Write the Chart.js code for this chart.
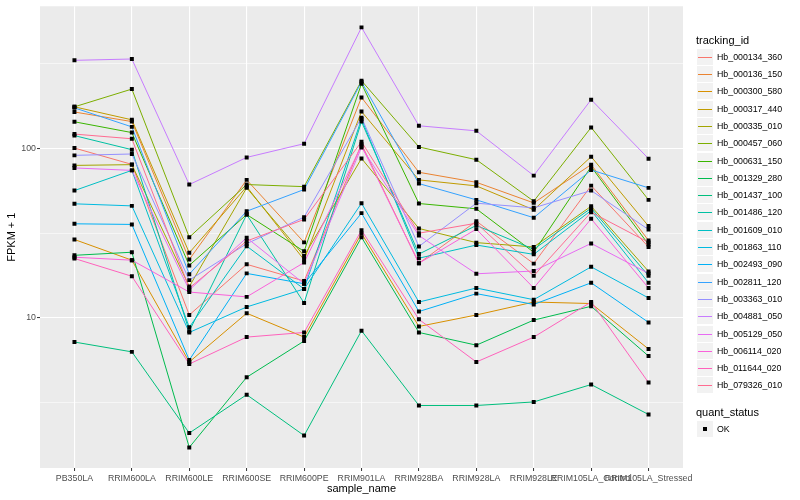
<!DOCTYPE html>
<html>
<head>
<meta charset="utf-8">
<script src="https://cdn.jsdelivr.net/npm/chart.js@4.4.1/dist/chart.umd.min.js"></script>
<style>
  html, body { margin: 0; padding: 0; background: #ffffff; }
  #wrap { position: relative; width: 800px; height: 500px; font-family: "Liberation Sans", Arial, sans-serif; }
  #chart { position: absolute; left: 0; top: 0; }
  .lg-title { position: absolute; left: 696px; font-size: 11px; color: #000; line-height: 13px; }
  .lg-key { position: absolute; left: 697px; width: 16px; height: 16px; background: #f2f2f2; }
  .lg-line { position: absolute; left: 1px; right: 1px; top: 7.5px; height: 1.3px; }
  .lg-dot { position: absolute; left: 6px; top: 6px; width: 4px; height: 4px; background: #000; }
  .lg-text { position: absolute; left: 717px; font-size: 8.8px; color: #000; line-height: 10px; white-space: nowrap; }
</style>
</head>
<body>
<div id="wrap">
  <canvas id="chart" width="800" height="500"></canvas>
</div>
<script>
// ---- data ----
const categories = ['PB350LA', 'RRIM600LA', 'RRIM600LE', 'RRIM600SE', 'RRIM600PE', 'RRIM901LA',
                    'RRIM928BA', 'RRIM928LA', 'RRIM928LE', 'RRIM105LA_Control', 'RRIM105LA_Stressed'];

const trackingIds = ['Hb_000134_360', 'Hb_000136_150', 'Hb_000300_580', 'Hb_000317_440', 'Hb_000335_010',
                     'Hb_000457_060', 'Hb_000631_150', 'Hb_001329_280', 'Hb_001437_100', 'Hb_001486_120',
                     'Hb_001609_010', 'Hb_001863_110', 'Hb_002493_090', 'Hb_002811_120', 'Hb_003363_010',
                     'Hb_004881_050', 'Hb_005129_050', 'Hb_006114_020', 'Hb_011644_020', 'Hb_079326_010'];

// FPKM + 1, one value per sample
const hb_000134_360 = [100.5, 80.5, 10.4, 20.7, 16.5, 106, 21.0, 37.2, 20.9, 60.3, 26.2];
const hb_000136_150 = [164, 144, 22.1, 65.2, 27.9, 200, 72.3, 63.1, 47.7, 80.2, 28.6];
const hb_000300_580 = [29.0, 21.9, 5.49, 10.65, 7.7, 31.5, 8.9, 10.4, 12.4, 12.15, 6.55];
const hb_000317_440 = [176, 147.5, 24.2, 59.5, 22.0, 165, 65.2, 60.1, 43.4, 89.4, 34.8];
const hb_000335_010 = [79.4, 80.2, 15.3, 58.5, 23.2, 87.3, 33.7, 27.8, 26.2, 45.6, 18.8];
const hb_000457_060 = [176, 224, 29.9, 61.2, 59.5, 251, 102, 85.8, 48.8, 133, 49.7];
const hb_000631_150 = [143.6, 124, 20.4, 40.7, 24.7, 241, 47.3, 44.0, 24.4, 78, 27.1];
const hb_001329_280 = [23.4, 24.4, 1.72, 4.46, 7.3, 29.9, 8.2, 6.9, 9.7, 11.7, 5.95];
const hb_001437_100 = [7.2, 6.3, 2.09, 3.52, 2.02, 8.4, 3.04, 3.04, 3.19, 4.04, 2.69];
const hb_001486_120 = [119, 98.3, 8.35, 40.7, 12.25, 144, 23.8, 35.1, 25.4, 44.4, 17.7];
const hb_001609_010 = [56.4, 74.2, 8.8, 26.5, 14.8, 149, 22.5, 26.9, 23.7, 43.0, 16.1];
const hb_001863_110 = [47.1, 45.8, 8.2, 11.6, 14.8, 47.5, 12.4, 15.0, 12.8, 20.0, 13.1];
const hb_002493_090 = [35.9, 35.6, 5.64, 18.3, 15.9, 41.5, 10.9, 13.9, 12.0, 16.1, 9.4];
const hb_002811_120 = [173.5, 134, 18.1, 42.6, 57.2, 247, 62.0, 49.7, 39.0, 74.6, 58.5];
const hb_003363_010 = [91, 92.7, 16.7, 27.4, 39.3, 152, 26.4, 47.5, 44.6, 56.4, 33.2];
const hb_004881_050 = [331, 337, 61.2, 88.5, 106.6, 518, 136, 127, 69.1, 194, 87];
const hb_005129_050 = [76.7, 74.2, 14.6, 29.7, 15.9, 101.4, 30.6, 18.2, 18.9, 27.5, 18.3];
const hb_006114_020 = [22.8, 21.9, 14.2, 13.3, 21.2, 103.7, 21.0, 33.4, 15.0, 38.4, 15.0];
const hb_011644_020 = [22.4, 17.6, 5.34, 7.7, 8.2, 32.9, 9.8, 5.49, 7.7, 12.4, 4.15];
const hb_079326_010 = [121.5, 114, 15.0, 28.4, 38.1, 109.5, 31.6, 36.2, 17.7, 42.0, 27.9];

const seriesValues = [hb_000134_360, hb_000136_150, hb_000300_580, hb_000317_440, hb_000335_010,
                      hb_000457_060, hb_000631_150, hb_001329_280, hb_001437_100, hb_001486_120,
                      hb_001609_010, hb_001863_110, hb_002493_090, hb_002811_120, hb_003363_010,
                      hb_004881_050, hb_005129_050, hb_006114_020, hb_011644_020, hb_079326_010];

const yTickValues = [10, 100];
const yMinorValues = [Math.sqrt(10), Math.sqrt(1000), Math.sqrt(100000)];
const yRange = [1.3, 690];

// ggplot default hue palette for 20 groups
const seriesColors = ['#F8766D', '#EA8331', '#D89000', '#C09B00', '#A3A500', '#7CAE00', '#39B600',
                      '#00BB4E', '#00BF7D', '#00C1A3', '#00BFC4', '#00BAE0', '#00B0F6', '#35A2FF',
                      '#9590FF', '#C77CFF', '#E76BF3', '#FA62DB', '#FF62BC', '#FF6C91'];

const FONT = '"Liberation Sans", Arial, sans-serif';

// ---- datasets ----
const lineSets = seriesValues.map((vals, s) => ({
    label: trackingIds[s],
    data: vals.map((v, i) => ({ x: i, y: v })),
    borderColor: seriesColors[s],
    borderWidth: 1,
    pointRadius: 0,
    tension: 0,
    fill: false,
    order: 100 - s
}));

const pointSet = {
    label: 'OK',
    data: seriesValues.flatMap(vals => vals.map((v, i) => ({ x: i, y: v }))),
    showLine: false,
    pointStyle: 'rect',
    pointRadius: 2.8,
    pointBackgroundColor: '#000',
    pointBorderWidth: 0,
    order: 0
};

// grey panel behind everything
const panelBg = {
    id: 'panelBg',
    beforeDraw(chart) {
        const a = chart.chartArea, ctx = chart.ctx;
        ctx.save();
        ctx.fillStyle = '#ebebeb';
        ctx.fillRect(a.left, a.top, a.right - a.left, a.bottom - a.top);
        ctx.restore();
    }
};

new Chart(document.getElementById('chart'), {
    type: 'line',
    data: { datasets: [pointSet].concat(lineSets) },
    plugins: [panelBg],
    options: {
        responsive: false,
        animation: false,
        layout: { padding: { top: 5, right: 117, bottom: 0, left: 0 } },
        plugins: { legend: { display: false }, tooltip: { enabled: false } },
        scales: {
            x: {
                type: 'linear',
                min: -0.6, max: 10.6,
                afterBuildTicks: (scale) => { scale.ticks = categories.map((c, i) => ({ value: i })); },
                afterFit: (scale) => { scale.height = 32; },
                border: { display: false },
                grid: { color: '#ffffff', lineWidth: 1.1, tickLength: 3, tickColor: '#333333', tickWidth: 1 },
                ticks: {
                    autoSkip: false, maxRotation: 0, padding: 2.5,
                    color: '#4d4d4d', font: { family: FONT, size: 8.8 },
                    callback: (v) => categories[v]
                },
                title: { display: true, text: 'sample_name', color: '#000', font: { family: FONT, size: 11 }, padding: { top: 0, bottom: 4.7 } }
            },
            y: {
                type: 'logarithmic',
                min: yRange[0], max: yRange[1],
                afterBuildTicks: (scale) => {
                    scale.ticks = yMinorValues.concat(yTickValues).sort((a, b) => a - b).map(v => ({ value: v }));
                },
                afterFit: (scale) => { scale.width = 40; },
                border: { display: false },
                grid: {
                    color: '#ffffff',
                    lineWidth: (ctx) => (ctx.tick && yTickValues.includes(ctx.tick.value)) ? 1.1 : 0.55,
                    tickLength: 3,
                    tickColor: (ctx) => (ctx.tick && yTickValues.includes(ctx.tick.value)) ? '#333333' : 'rgba(0,0,0,0)',
                    tickWidth: 1
                },
                ticks: {
                    autoSkip: false, padding: 1,
                    color: '#4d4d4d', font: { family: FONT, size: 8.8 },
                    callback: (v) => yTickValues.includes(v) ? String(v) : ''
                },
                title: { display: true, text: 'FPKM + 1', color: '#000', font: { family: FONT, size: 11 }, padding: { top: 5, bottom: 0 } }
            }
        }
    }
});

// ---- legend (html text) ----
const wrap = document.getElementById('wrap');
function addEl(cls, top, html) {
    const d = document.createElement('div');
    d.className = cls;
    d.style.top = top + 'px';
    if (html !== undefined) d.textContent = html;
    wrap.appendChild(d);
    return d;
}
addEl('lg-title', 34, 'tracking_id');
trackingIds.forEach((id, s) => {
    const cy = Math.round(56.7 + s * 17.3);
    const key = addEl('lg-key', cy - 8);
    const ln = document.createElement('div');
    ln.className = 'lg-line';
    ln.style.background = seriesColors[s];
    key.appendChild(ln);
    addEl('lg-text', cy - 5, id);
});
addEl('lg-title', 405.5, 'quant_status');
const okKey = addEl('lg-key', 429 - 8);
const dot = document.createElement('div');
dot.className = 'lg-dot';
okKey.appendChild(dot);
addEl('lg-text', 429 - 5, 'OK');
</script>
</body>
</html>
